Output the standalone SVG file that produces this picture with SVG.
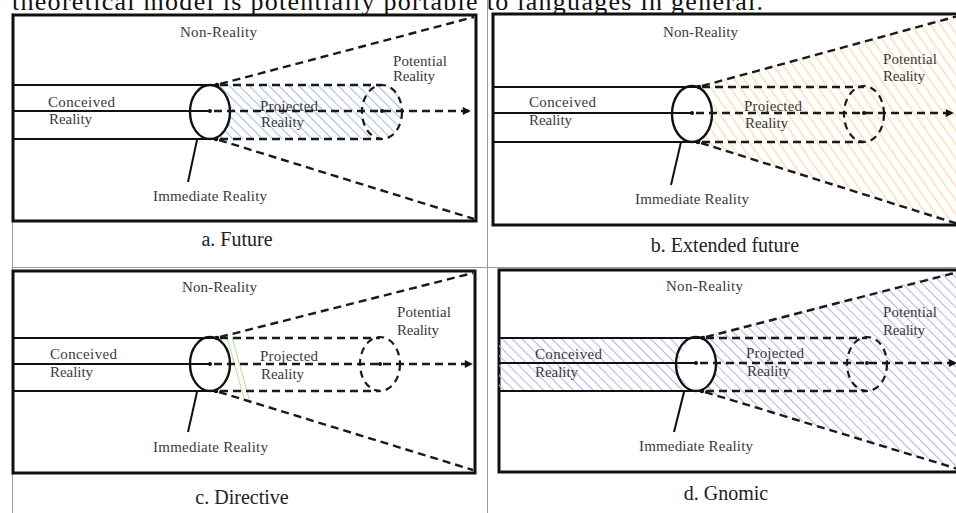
<svg xmlns="http://www.w3.org/2000/svg" width="956" height="513" viewBox="0 0 956 513">
<style>
.t{font-family:"Liberation Serif","Times New Roman",serif;font-size:15px;fill:#3a3a3a}
.cap{font-family:"Liberation Serif","Times New Roman",serif;font-size:20px;fill:#222;text-anchor:middle}
.top{font-family:"Liberation Serif","Times New Roman",serif;font-size:26px;fill:#111}
.box{fill:#fff;stroke:#111;stroke-width:3}
.sl{stroke:#111;stroke-width:2;fill:none}
.dl{stroke:#1a1a1a;stroke-width:2.4;fill:none;stroke-dasharray:8 5}
.el{stroke:#111;stroke-width:2.4;fill:none}
.del{stroke:#1a1a1a;stroke-width:2.2;fill:none;stroke-dasharray:7 5}
.dot{fill:#111}
.grid{stroke:#9a9a9a;stroke-width:1;fill:none}
</style>
<defs>
<marker id="arr" viewBox="0 0 10 10" refX="9" refY="5" markerWidth="9" markerHeight="8" markerUnits="userSpaceOnUse" orient="auto">
<path d="M0,0 L10,5 L0,10 z" fill="#111"/>
</marker>
<pattern id="hBlue" width="7" height="7" patternUnits="userSpaceOnUse" patternTransform="rotate(-45)"><line x1="3.5" y1="0" x2="3.5" y2="7" stroke="#a9bde3" stroke-width="1.1"/></pattern>
<pattern id="hOrange" width="8" height="8" patternUnits="userSpaceOnUse" patternTransform="rotate(-35)"><line x1="4" y1="0" x2="4" y2="8" stroke="#f5d49c" stroke-width="1.1"/></pattern>
<pattern id="hPurple" width="7" height="7" patternUnits="userSpaceOnUse" patternTransform="rotate(-45)"><line x1="3.5" y1="0" x2="3.5" y2="7" stroke="#c3aeea" stroke-width="1.1"/></pattern>
</defs>
<rect width="956" height="513" fill="#fff"/>
<text class="top" x="12" y="10" textLength="751">theoretical model is potentially portable to languages in general.</text>
<g id="grid">
<line class="grid" x1="12.5" y1="13" x2="12.5" y2="513"/>
<line class="grid" x1="487.5" y1="0" x2="487.5" y2="513"/>
<line class="grid" x1="12" y1="267.5" x2="956" y2="267.5"/>
</g>

<!-- Panel a -->
<g id="panel-a">
<rect class="box" x="13" y="15" width="463" height="206"/>
<path d="M210,85 A20 27 0 0 1 210,139 L382,139 A20 27 0 0 0 382,85 Z" fill="url(#hBlue)"/>
<g id="a-immediate"><ellipse class="el" cx="210" cy="112" rx="20" ry="27"/></g>
<g id="a-potential-circle"><ellipse class="del" cx="382" cy="112" rx="20" ry="27"/></g>
<circle class="dot" cx="217" cy="85" r="2.3"/><circle class="dot" cx="210" cy="111" r="2"/><circle class="dot" cx="216" cy="139" r="2.3"/><circle class="dot" cx="382" cy="111" r="2"/>
<text class="t" x="180" y="37" textLength="77">Non-Reality</text>
<text class="t" x="393" y="66" textLength="54">Potential</text>
<text class="t" x="393" y="81" textLength="42">Reality</text>
<text class="t" x="48" y="107" textLength="67">Conceived</text>
<text class="t" x="49" y="124" textLength="43">Reality</text>
<text class="t" x="260" y="111" textLength="58">Projected</text>
<text class="t" x="261" y="127" textLength="43">Reality</text>
<text class="t" x="153" y="201" textLength="114">Immediate Reality</text>
<text class="cap" x="237" y="246">a. Future</text>
</g>

<!-- Panel b -->
<g id="panel-b">
<rect class="box" x="493" y="14" width="470" height="211"/>
<path d="M692,86 A20 28 0 0 1 692,142 L699,142 L960,226 L960,13 L699,87 Z" fill="url(#hOrange)"/>
<g id="b-immediate"><ellipse class="el" cx="692" cy="114" rx="20" ry="28"/></g>
<g id="b-potential-circle"><ellipse class="del" cx="864" cy="114" rx="20" ry="28"/></g>
<circle class="dot" cx="699" cy="87" r="2.3"/><circle class="dot" cx="692" cy="113" r="2"/><circle class="dot" cx="698" cy="142" r="2.3"/><circle class="dot" cx="864" cy="113" r="2"/>
<text class="t" x="663" y="37" textLength="75">Non-Reality</text>
<text class="t" x="883" y="64" textLength="54">Potential</text>
<text class="t" x="883" y="81" textLength="42">Reality</text>
<text class="t" x="529" y="107" textLength="67">Conceived</text>
<text class="t" x="529" y="125" textLength="43">Reality</text>
<text class="t" x="744" y="111" textLength="58">Projected</text>
<text class="t" x="745" y="128" textLength="43">Reality</text>
<text class="t" x="635" y="204" textLength="114">Immediate Reality</text>
<text class="cap" x="725" y="252">b. Extended future</text>
</g>

<!-- Panel c -->
<g id="panel-c">
<rect class="box" x="13" y="271" width="462" height="202"/>
<g id="c-immediate"><ellipse class="el" cx="210" cy="364" rx="20" ry="27"/></g>
<g id="c-potential-circle"><ellipse class="del" cx="380" cy="364" rx="20" ry="27"/></g>
<g id="c-hatch" stroke="#b7dca2" stroke-width="1">
<line x1="227" y1="337" x2="245" y2="402"/>
<line x1="232" y1="337" x2="250" y2="402"/>
</g>
<circle class="dot" cx="217" cy="338" r="2.3"/><circle class="dot" cx="210" cy="364" r="2"/><circle class="dot" cx="216" cy="391" r="2.3"/><circle class="dot" cx="380" cy="364" r="2"/>
<text class="t" x="182" y="292" textLength="75">Non-Reality</text>
<text class="t" x="397" y="317" textLength="54">Potential</text>
<text class="t" x="397" y="335" textLength="42">Reality</text>
<text class="t" x="50" y="359" textLength="67">Conceived</text>
<text class="t" x="50" y="377" textLength="43">Reality</text>
<text class="t" x="260" y="361" textLength="58">Projected</text>
<text class="t" x="261" y="379" textLength="43">Reality</text>
<text class="t" x="153" y="452" textLength="115">Immediate Reality</text>
<text class="cap" x="242" y="504">c. Directive</text>
</g>

<!-- Panel d -->
<g id="panel-d">
<rect class="box" x="499" y="270" width="470" height="202"/>
<path d="M499,338 L696,338 A20 27 0 0 0 696,391 L499,391 Z" fill="url(#hPurple)"/>
<path d="M696,337 A20 27 0 0 1 696,391 L703,391 L960,470 L960,269 L703,338 Z" fill="url(#hPurple)"/>
<g id="d-immediate"><ellipse class="el" cx="696" cy="364" rx="20" ry="27"/></g>
<g id="d-potential-circle"><ellipse class="del" cx="867" cy="364" rx="20" ry="27"/></g>
<circle class="dot" cx="703" cy="338" r="2.3"/><circle class="dot" cx="696" cy="363" r="2"/><circle class="dot" cx="702" cy="391" r="2.3"/><circle class="dot" cx="867" cy="363" r="2"/>
<text class="t" x="666" y="291" textLength="77">Non-Reality</text>
<text class="t" x="883" y="317" textLength="54">Potential</text>
<text class="t" x="883" y="335" textLength="42">Reality</text>
<text class="t" x="535" y="359" textLength="67">Conceived</text>
<text class="t" x="535" y="377" textLength="43">Reality</text>
<text class="t" x="746" y="358" textLength="58">Projected</text>
<text class="t" x="747" y="376" textLength="43">Reality</text>
<text class="t" x="639" y="451" textLength="114">Immediate Reality</text>
<text class="cap" x="726" y="500">d. Gnomic</text>
</g>

<g id="connectors">
<!-- a -->
<line class="sl" x1="14" y1="85" x2="217" y2="85"/>
<line class="sl" x1="14" y1="111" x2="210" y2="111"/>
<line class="sl" x1="14" y1="139" x2="216" y2="139"/>
<line class="dl" x1="220" y1="85" x2="382" y2="85"/>
<line class="dl" x1="220" y1="139" x2="382" y2="139"/>
<line class="dl" x1="214" y1="111" x2="470" y2="111" marker-end="url(#arr)"/>
<line class="dl" x1="220" y1="84" x2="474" y2="17"/>
<line class="dl" x1="219" y1="140" x2="474" y2="219"/>
<line class="sl" x1="197" y1="140" x2="188" y2="182"/>
<!-- b -->
<line class="sl" x1="494" y1="87" x2="699" y2="87"/>
<line class="sl" x1="494" y1="113" x2="692" y2="113"/>
<line class="sl" x1="494" y1="142" x2="698" y2="142"/>
<line class="dl" x1="702" y1="87" x2="864" y2="87"/>
<line class="dl" x1="702" y1="142" x2="864" y2="142"/>
<line class="dl" x1="696" y1="113" x2="953" y2="113" marker-end="url(#arr)"/>
<line class="dl" x1="702" y1="86" x2="958" y2="16"/>
<line class="dl" x1="701" y1="143" x2="958" y2="224"/>
<line class="sl" x1="681" y1="142" x2="671" y2="185"/>
<!-- c -->
<line class="sl" x1="14" y1="338" x2="217" y2="338"/>
<line class="sl" x1="14" y1="364" x2="210" y2="364"/>
<line class="sl" x1="14" y1="391" x2="216" y2="391"/>
<line class="dl" x1="220" y1="338" x2="380" y2="338"/>
<line class="dl" x1="220" y1="391" x2="380" y2="391"/>
<line class="dl" x1="214" y1="364" x2="472" y2="364" marker-end="url(#arr)"/>
<line class="dl" x1="220" y1="337" x2="473" y2="273"/>
<line class="dl" x1="219" y1="392" x2="473" y2="470"/>
<line class="sl" x1="197" y1="392" x2="188" y2="432"/>
<!-- d -->
<line class="sl" x1="500" y1="338" x2="703" y2="338"/>
<line class="sl" x1="500" y1="363" x2="696" y2="363"/>
<line class="sl" x1="500" y1="391" x2="702" y2="391"/>
<line class="dl" x1="706" y1="338" x2="867" y2="338"/>
<line class="dl" x1="706" y1="391" x2="867" y2="391"/>
<line class="dl" x1="700" y1="363" x2="956" y2="363" marker-end="url(#arr)"/>
<line class="dl" x1="706" y1="337" x2="958" y2="272"/>
<line class="dl" x1="705" y1="392" x2="958" y2="469"/>
<line class="sl" x1="684" y1="392" x2="674" y2="432"/>
</g>
</svg>
